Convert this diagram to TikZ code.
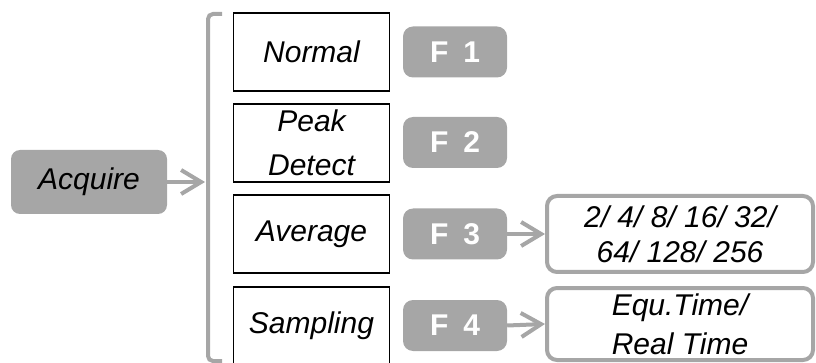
\documentclass[tikz,border=0pt]{standalone}
\usepackage{fontspec}
\setmainfont{Liberation Sans}
\usetikzlibrary{arrows.meta}
\definecolor{kgray}{HTML}{A6A6A6}
\tikzset{
  >={Straight Barb[length=20pt,width=24pt]},
  srcbox/.style={
    fill=kgray, draw=none, rounded corners=9pt, inner sep=0pt,
    minimum width=156pt, minimum height=64pt,
    font=\fontsize{30}{36}\selectfont\itshape
  },
  modebox/.style={
    draw=black, fill=white, line width=1.3pt, inner sep=0pt, align=center,
    minimum width=156pt, minimum height=#1,
    font=\fontsize{30}{44}\selectfont\itshape
  },
  modebox/.default=78pt,
  keypill/.style={
    fill=kgray, draw=none, rounded corners=10pt, inner sep=0pt,
    minimum width=104pt, minimum height=51pt, text=white,
    font=\fontsize{30}{34}\selectfont\bfseries
  },
  optbox/.style={
    draw=kgray, fill=white, line width=4pt, rounded corners=10pt,
    inner sep=0pt, align=center, minimum width=266pt, minimum height=#1
  },
  optbox/.default=76pt,
  grayarr/.style={->, draw=kgray, line width=4pt},
  bracketline/.style={draw=kgray, line width=4pt, rounded corners=5pt}
}
\newcommand{\fkey}[1]{F\hspace{15pt}#1\hspace{12pt}}
\begin{document}
\begin{tikzpicture}[x=1pt, y=-1pt]
  \useasboundingbox (0,0) rectangle (816,363);
  % source and bracket
  \node[srcbox] (acq) at (89,182) {Acquire};
  \coordinate (brk) at (205,182);
  \draw[bracketline] (222,14) -- (208,14) -- (208,361) -- (222,361);
  \draw[grayarr] (acq.east) -- (brk);
  % modes
  \node[modebox] (normal) at (311.5,52) {Normal};
  \node[modebox] (peak) at (311.5,143) {Peak\\Detect};
  \node[modebox] (avg) at (311.5,234) {Average};
  \node[modebox=77pt] (samp) at (311.5,325.5) {Sampling};
  % soft keys
  \node[keypill] (f1) at (455,52) {\fkey{1}};
  \node[keypill] (f2) at (455,142.5) {\fkey{2}};
  \node[keypill] (f3) at (455,234) {\fkey{3}};
  \node[keypill] (f4) at (455,325.5) {\fkey{4}};
  % options
  \node[optbox, font=\fontsize{30}{35}\selectfont\itshape] (avgopt) at (680,234)
    {2/ 4/ 8/ 16/ 32/\\64/ 128/ 256};
  \node[optbox=72pt, font=\fontsize{30}{39}\selectfont\itshape] (sampopt) at (680,324)
    {Equ.Time/\\Real Time};
  \draw[grayarr] (f3.east) -- (avgopt.west);
  \draw[grayarr] (f4.east) -- (sampopt.west);
\end{tikzpicture}
\end{document}
